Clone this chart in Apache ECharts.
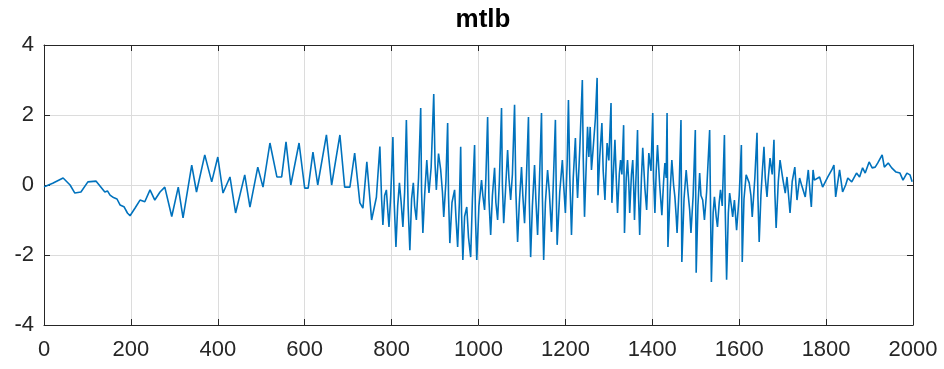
<!DOCTYPE html>
<html><head><meta charset="utf-8">
<script src="https://cdn.jsdelivr.net/npm/echarts@6/dist/echarts.min.js"></script>
<style>html,body{margin:0;padding:0;background:#fff}#c{width:944px;height:369px}</style>
</head><body><div id="c"></div>
<script>
const title = "mtlb";
const xTicks = [0,200,400,600,800,1000,1200,1400,1600,1800,2000];
const yTicks = [-4,-2,0,2,4];
const sampleIdx = [
0,5,20,44,60,71,85,101,120,140,146,152,160,168,175,184,192,198,210,221,232,244,255,267,278,294,309,320,340,351,370,386,400,412,428,441,462,474,492,504,520,524,536,547,557,568,587,600,608,619,630,650,662,681,692,704,715,727,734,743,754,765,
773,777,780,784,788,791,794,798,803,806,810,814,818,822,826,830,834,838,842,846,850,853,857,862,867,869,872,876,881,884,886,891,897,900,903,908,913,917,920,925,929,931,934,939,945,948,952,956,959,961,964,968,973,977,982,986,991,993,996,
1001,1007,1010,1014,1017,1021,1024,1028,1032,1037,1040,1044,1048,1053,1055,1058,1062,1067,1070,1074,1078,1083,1086,1090,1094,1099,1102,1106,1110,1115,1117,1120,1124,1129,1132,1136,1140,1145,1147,1150,1154,1159,1163,1168,1172,1177,1179,1181,1187,1193,1196,1200,
1204,1207,1210,1214,1218,1223,1225,1228,1233,1239,1241,1244,1248,1251,1254,1257,1260,1263,1269,1273,1275,1279,1284,1287,1291,1294,1296,1300,1305,1307,1311,1314,1317,1320,1324,1327,1330,1334,1336,1340,1343,1346,1348,1352,1355,1357,1359,1363,1366,1368,1371,1375,1378,1383,1387,1390,1392,1397,
1401,1403,1406,1409,1412,1417,1422,1426,1429,1432,1434,1436,1441,1445,1449,1452,1455,1457,1462,1466,1468,1473,1478,1482,1486,1489,1494,1499,1501,1505,1509,1512,1516,1520,1525,1532,1536,1540,1543,1547,1550,1554,1557,1561,1566,1568,1571,1575,1578,1582,1585,1589,1594,1600,
1605,1607,1611,1616,1623,1627,1630,1636,1641,1643,1646,1650,1653,1657,1660,1664,1667,1671,1676,1680,1682,1685,1690,1694,1700,1706,1710,1717,1722,1728,1733,1739,1745,1752,1759,1763,1766,1770,1773,
1785,1792,1804,1813,1818,1822,1831,1838,1845,1850,1859,1870,1877,1884,1890,1899,1906,1913,1919,1929,1934,1943,1951,1961,1970,1977,1986,1993,1998];
const signal = [
-0.05,-0.03,0.05,0.2,0.0,-0.23,-0.2,0.09,0.11,-0.2,-0.17,-0.29,-0.36,-0.4,-0.57,-0.62,-0.8,-0.88,-0.65,-0.43,-0.48,-0.14,-0.43,-0.2,-0.06,-0.9,-0.06,-0.94,0.57,-0.2,0.86,0.09,0.8,-0.23,0.23,-0.8,0.29,-0.63,0.51,-0.06,1.2,1.23,0.23,0.23,1.23,0.0,1.2,-0.09,-0.09,0.94,0.0,1.43,0.0,1.43,-0.06,-0.06,0.91,-0.51,-0.66,0.66,-1.0,-0.35,
1.1,-0.4,-1.14,-0.3,-0.14,-0.7,-1.2,-0.3,1.37,-0.5,-1.77,-0.6,0.06,-0.5,-1.2,-0.2,1.86,-0.6,-1.86,-0.4,0.06,-0.6,-1.0,0.2,2.2,-0.2,-1.37,-0.3,0.71,0.1,-0.23,0.5,2.6,0.6,-0.14,0.9,0.43,-0.2,-0.91,0.1,1.77,-0.3,-1.66,-0.5,-0.14,-0.9,-1.77,-0.5,1.09,-0.8,-2.14,-0.9,-0.63,-1.5,-2.06,-0.4,1.14,-0.9,-2.14,
-0.6,0.14,-0.3,-0.71,0.2,1.94,-0.4,-1.43,-0.3,0.49,-0.5,-1.0,0.1,2.2,0.0,-1.09,-0.2,1.0,0.2,-0.43,0.3,2.29,-0.2,-1.63,-0.5,0.51,-0.3,-1.09,0.1,1.94,-0.5,-2.06,-0.6,0.57,-0.4,-1.43,0.0,2.06,-0.3,-2.14,-0.5,0.43,-0.2,-1.34,0.0,1.86,-0.2,-1.71,-0.2,0.71,0.0,-0.8,
0.6,2.43,0.3,-1.43,0.2,1.34,0.5,-0.37,1.0,3.0,0.8,-0.91,0.6,1.66,0.8,1.66,0.43,0.9,1.9,3.06,-0.29,0.8,1.77,0.4,-0.43,0.6,1.2,0.7,2.34,-0.51,0.5,1.29,0.2,-0.8,0.3,0.71,0.3,1.71,-1.37,0.2,0.71,0.0,-0.8,0.3,0.71,0.0,-1.0,0.4,1.57,-0.2,-1.43,0.2,1.06,-0.1,-0.71,0.3,0.91,0.4,
2.06,0.2,-0.8,0.4,1.14,0.0,-0.86,0.1,0.63,0.2,2.06,-1.77,-0.2,0.71,0.0,-0.34,-0.9,-1.37,0.0,1.86,-2.2,-0.4,0.43,-0.2,-0.71,-1.37,-0.3,1.57,-2.51,-0.6,0.34,-0.3,-0.43,-1.0,-0.2,1.57,-2.77,-0.8,-0.34,-0.9,-1.2,-0.5,-0.14,-0.6,1.43,-0.8,-2.71,-0.8,-0.23,-0.6,-0.91,-0.43,-1.29,-0.3,
1.14,-2.2,-0.4,0.29,0.06,-0.3,-0.91,0.2,1.49,-0.3,-1.63,-0.3,0.34,1.09,0.2,-0.34,0.2,0.77,0.3,1.29,-0.2,-1.23,0.1,0.71,0.2,-0.23,0.23,-0.8,0.1,0.51,-0.43,0.2,-0.06,-0.34,0.43,-0.2,-0.63,0.43,0.14,
0.23,-0.06,0.23,0.43,0.57,-0.34,0.43,-0.2,0.0,0.2,0.09,0.34,0.23,0.49,0.34,0.66,0.49,0.51,0.63,0.86,0.51,0.63,0.49,0.37,0.34,0.14,0.34,0.29,0.09];
const data = sampleIdx.map((x,i)=>[x, signal[i]]);
const chart = echarts.init(document.getElementById('c'));
const axisTxt = {color:'#262626', fontFamily:'"Liberation Sans", Arial', fontSize:22};
const axisLine = {show:true, onZero:false, lineStyle:{color:'#262626', width:1}};
const tick = {show:true, inside:true, length:6, lineStyle:{color:'#262626'}};
chart.setOption({
  animation:false,
  title:{text:title, left:478, textAlign:'center', top:2, textStyle:{fontFamily:'"Liberation Sans", Arial', fontWeight:'bold', fontSize:26, color:'#000'}},
  grid:{left:44, right:31, top:45, bottom:44, show:false},
  xAxis:[
    {type:'value', min:0, max:2000, interval:200, position:'bottom',
     axisLine:axisLine, axisTick:tick,
     axisLabel:Object.assign({margin:14, formatter:v=>xTicks.includes(v)?String(v):''}, axisTxt),
     splitLine:{show:true, lineStyle:{color:'#dcdcdc', width:1}}},
    {type:'value', min:0, max:2000, interval:200, position:'top',
     axisLine:axisLine, axisTick:tick, axisLabel:{show:false}, splitLine:{show:false}}
  ],
  yAxis:[
    {type:'value', min:-4, max:4, interval:2, position:'left',
     axisLine:axisLine, axisTick:tick,
     axisLabel:Object.assign({margin:10, formatter:v=>yTicks.includes(v)?String(v):''}, axisTxt),
     splitLine:{show:true, lineStyle:{color:'#dcdcdc', width:1}}},
    {type:'value', min:-4, max:4, interval:2, position:'right',
     axisLine:axisLine, axisTick:tick, axisLabel:{show:false}, splitLine:{show:false}}
  ],
  series:[{type:'line', data:data, showSymbol:false, symbol:'none', lineStyle:{color:'#0072BD', width:1.6}, xAxisIndex:0, yAxisIndex:0}]
});
</script></body></html>
